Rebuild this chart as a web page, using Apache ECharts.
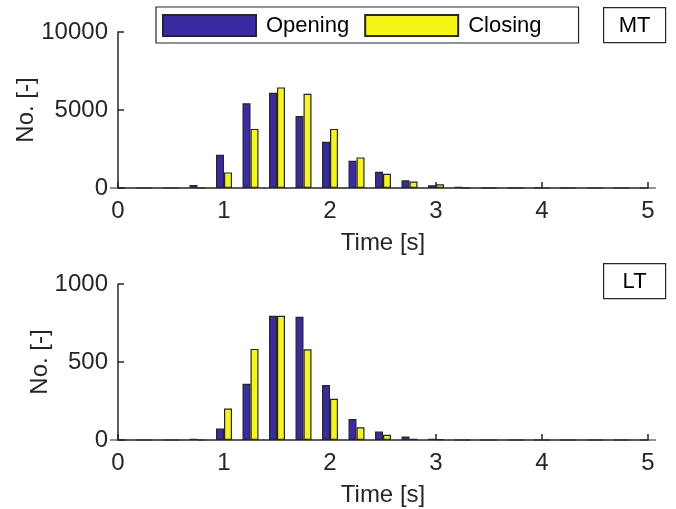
<!DOCTYPE html>
<html>
<head>
<meta charset="utf-8">
<script src="https://cdn.jsdelivr.net/npm/echarts@6/dist/echarts.min.js"></script>
<style>
  html, body { margin: 0; padding: 0; background: #fff; }
  #chart { width: 676px; height: 509px; }
</style>
</head>
<body>
<div id="chart"></div>
<script>
// bin centres, 0.25 s apart
const binCentres = [0, 0.25, 0.5, 0.75, 1, 1.25, 1.5, 1.75, 2, 2.25, 2.5, 2.75, 3, 3.25, 3.5, 3.75, 4, 4.25, 4.5, 4.75, 5]
const seriesNames = ['Opening', 'Closing']
// MT panel
const mtOpening = [0, 0, 0, 200, 2130, 5430, 6100, 4620, 2960, 1745, 1045, 490, 170, 80, 20, 10, 5, 5, 0, 0, 0]
const mtClosing = [0, 0, 0, 0, 1000, 3790, 6450, 6040, 3790, 1960, 915, 410, 240, 20, 10, 5, 0, 0, 0, 0, 0]
// LT panel
const ltOpening = [0, 0, 0, 8, 73, 361, 796, 790, 352, 135, 55, 23, 8, 0, 0, 0, 0, 0, 0, 0, 0]
const ltClosing = [0, 0, 0, 0, 202, 584, 796, 582, 264, 81, 34, 8, 4, 0, 0, 0, 0, 0, 0, 0, 0]
const xTicks = [0, 1, 2, 3, 4, 5]
const mtYTicks = [0, 5000, 10000]
const ltYTicks = [0, 500, 1000]

const FONT = 'Liberation Sans'
const INK = '#262626'
const colours = ['#3a2aa3', '#f7f514']

let chart = echarts.init(document.getElementById('chart'))

function pairs (vals) {
  return binCentres.map((x, i) => [x, vals[i]])
}

function xAxis (grid) {
  return {
    type: 'value',
    gridIndex: grid,
    min: xTicks[0],
    max: xTicks[xTicks.length - 1],
    interval: 1,
    name: 'Time [s]',
    nameLocation: 'middle',
    nameGap: 43,
    nameTextStyle: { fontFamily: FONT, fontSize: 24, color: INK },
    axisLine: { show: true, onZero: false, lineStyle: { color: INK, width: 1.5 } },
    axisTick: { show: true, inside: true, length: 6, lineStyle: { color: INK, width: 1.5 } },
    axisLabel: { fontFamily: FONT, fontSize: 24, color: INK, margin: 11, formatter: v => String(v) },
    splitLine: { show: false }
  }
}

// ylabel sits closer when the tick labels are narrower
function yAxis (grid, ticks, gap) {
  return {
    type: 'value',
    gridIndex: grid,
    min: ticks[0],
    max: ticks[ticks.length - 1],
    interval: ticks[1] - ticks[0],
    name: 'No. [-]',
    nameLocation: 'middle',
    nameGap: gap,
    nameMoveOverlap: false,
    nameTextStyle: { fontFamily: FONT, fontSize: 24, color: INK },
    axisLine: { show: true, lineStyle: { color: INK, width: 1.5 } },
    axisTick: { show: true, inside: true, length: 6, lineStyle: { color: INK, width: 1.5 } },
    axisLabel: { fontFamily: FONT, fontSize: 24, color: INK, margin: 10, formatter: v => String(v) },
    splitLine: { show: false }
  }
}

function barSeries (name, idx, vals, colour) {
  return {
    name: name,
    type: 'bar',
    xAxisIndex: idx,
    yAxisIndex: idx,
    data: pairs(vals),
    barWidth: 8,
    barGap: '0%',
    itemStyle: { color: colour, borderColor: INK, borderWidth: 1.2 },
    emphasis: { disabled: true }
  }
}

function tagBox (label, x, y) {
  return {
    type: 'group',
    left: x,
    top: y,
    children: [
      { type: 'rect', shape: { x: 0, y: 0, width: 62, height: 35 }, style: { fill: '#fff', stroke: INK, lineWidth: 1.2 } },
      { type: 'text', x: 31, y: 18, style: { text: label, fontFamily: FONT, fontSize: 22, fill: '#000', align: 'center', verticalAlign: 'middle' } }
    ]
  }
}

let option = {
  animation: false,
  backgroundColor: '#fff',
  grid: [
    { left: 118, right: 28, top: 32, height: 156 },
    { left: 118, right: 28, top: 284, height: 156 }
  ],
  xAxis: [xAxis(0), xAxis(1)],
  yAxis: [yAxis(0, mtYTicks, 80), yAxis(1, ltYTicks, 66)],
  legend: {
    data: seriesNames,
    icon: 'rect',
    left: 156,
    top: 7,
    orient: 'horizontal',
    itemWidth: 93,
    itemHeight: 21,
    itemGap: 15,
    padding: [7, 37, 6, 6],
    borderColor: INK,
    borderWidth: 1.2,
    textStyle: { fontFamily: FONT, fontSize: 22, color: '#000', padding: [0, 0, 0, 5] }
  },
  graphic: [tagBox('MT', 603, 7), tagBox('LT', 603, 263)],
  series: [
    barSeries(seriesNames[0], 0, mtOpening, colours[0]),
    barSeries(seriesNames[1], 0, mtClosing, colours[1]),
    barSeries(seriesNames[0], 1, ltOpening, colours[0]),
    barSeries(seriesNames[1], 1, ltClosing, colours[1])
  ]
}

chart.setOption(option)
</script>
</body>
</html>
